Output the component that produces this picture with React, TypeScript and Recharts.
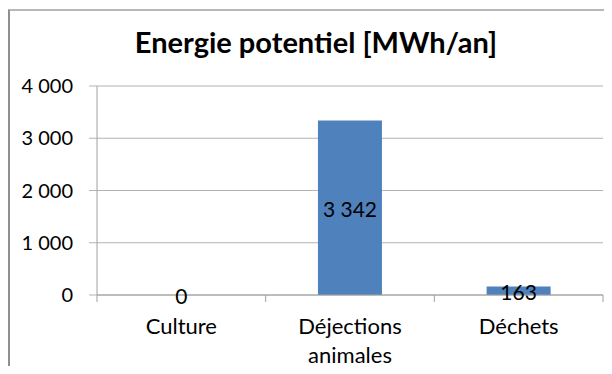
import React from "react";
import { BarChart, Bar, XAxis, YAxis, CartesianGrid, LabelList } from "recharts";

const categories = ["Culture", "Déjections animales", "Déchets"];
const energyValues = [0, 3342, 163];
const valueLabels = ["0", "3 342", "163"];
const yTicks = [0, 1000, 2000, 3000, 4000];
const title = "Energie potentiel [MWh/an]";

const data = categories.map((c, i) => ({ name: c, value: energyValues[i], label: valueLabels[i] }));

const FONT = "Lato, 'Open Sans', sans-serif";
const GRID = "#b3b3b3";
const AXIS = "#a0a0a0";

const fmtThousands = (v: number) => String(v).replace(/\B(?=(\d{3})+(?!\d))/g, " ");

const XTick = (props: any) => {
  const { x, y, payload, index, visibleTicksCount } = props;
  const half = payload && typeof payload.offset === "number" ? payload.offset : 0;
  const lines = String(payload.value).split(" ");
  return (
    <g>
      <line x1={x - half} x2={x - half} y1={y} y2={y + 7} stroke={AXIS} strokeWidth={1} />
      {index === visibleTicksCount - 1 && (
        <line x1={x + half} x2={x + half} y1={y} y2={y + 7} stroke={AXIS} strokeWidth={1} />
      )}
      {lines.map((l, i) => (
        <text key={i} x={x} y={y + 39 + i * 29} textAnchor="middle" fontFamily={FONT} fontSize={22} fill="#000">
          {l}
        </text>
      ))}
    </g>
  );
};

const ValueLabel = (props: any) => {
  const { x, y, width, height, value } = props;
  const cx = x + width / 2;
  const cy = y + height / 2;
  return (
    <text x={cx} y={cy + 9} textAnchor="middle" fontFamily={FONT} fontSize={21} fill="#000">
      {value}
    </text>
  );
};

export default function App() {
  return (
    <div style={{ position: "relative", width: 604, height: 366, marginBottom: -8, overflow: "hidden", background: "#fff" }}>
      <div
        style={{
          position: "absolute",
          left: 0,
          top: 1,
          width: 800,
          height: 800,
          borderLeft: "2px solid #8f8f8f",
          borderTop: "2px solid #b8b8b8",
          boxSizing: "border-box",
        }}
      />
      <BarChart
        width={604}
        height={366}
        data={data}
        margin={{ top: 78, right: 9, bottom: 19, left: 0 }}
        barCategoryGap="31%"
        style={{ position: "absolute", left: 0, top: 0 }}
      >
        <CartesianGrid vertical={false} stroke={GRID} strokeWidth={1} />
        <YAxis
          width={89}
          domain={[0, 4000]}
          ticks={yTicks}
          tickFormatter={fmtThousands}
          tickSize={8}
          tickMargin={16}
          axisLine={{ stroke: AXIS }}
          tickLine={{ stroke: GRID }}
          tick={{ fontFamily: FONT, fontSize: 20, fill: "#000" }}
          interval={0}
        />
        <XAxis
          dataKey="name"
          height={60}
          tickSize={0}
          tickMargin={0}
          tickLine={false}
          axisLine={{ stroke: AXIS }}
          tick={<XTick />}
          interval={0}
        />
        <Bar
          dataKey="value"
          fill="#4f81bd"
          isAnimationActive={false}
          minPointSize={(v: number) => (v === 0 ? 0.01 : 0)}
        >
          <LabelList dataKey="label" content={<ValueLabel />} />
        </Bar>
      </BarChart>
      <svg width={604} height={366} style={{ position: "absolute", left: 0, top: 0, pointerEvents: "none" }}>
        <text x={308} y={45} textAnchor="middle" fontFamily={FONT} fontWeight={700} fontSize={29} fill="#000">
          {title}
        </text>
      </svg>
    </div>
  );
}
